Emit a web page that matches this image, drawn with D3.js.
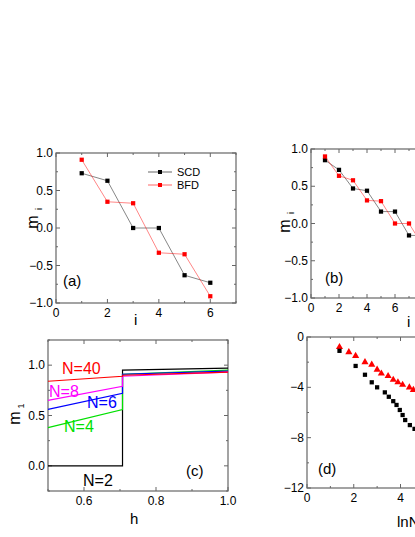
<!DOCTYPE html>
<html><head><meta charset="utf-8">
<script src="https://cdn.jsdelivr.net/npm/d3@7"></script>
<style>body{margin:0;background:#fff;overflow:hidden}text{font-family:"Liberation Sans",Arial,sans-serif}</style>
</head><body><div id="main"></div>
<script>
// panel (a)
const siteA = [1, 2, 3, 4, 5, 6];
const scdA = [0.73, 0.63, 0.0, 0.0, -0.63, -0.73];
const bfdA = [0.91, 0.35, 0.33, -0.33, -0.35, -0.91];
// panel (b)
const siteB = [1, 2, 3, 4, 5, 6, 7, 8, 9, 10, 11, 12];
const scdB = [0.85, 0.72, 0.47, 0.44, 0.16, 0.16, -0.16, -0.16, -0.44, -0.47, -0.72, -0.85];
const bfdB = [0.90, 0.64, 0.58, 0.31, 0.30, 0.0, 0.0, -0.30, -0.31, -0.58, -0.64, -0.90];
// panel (c): m1 vs h, [h, m1] for each N
const hc = 0.707;
const curvesC = [
  {name: "N=2", color: "#000", pts: [[0.5, 0], [hc, 0], [hc, 0.95], [1.0, 0.97]]},
  {name: "N=4", color: "#00e000", pts: [[0.5, 0.38], [hc, 0.56], [hc, 0.91], [1.0, 0.95]]},
  {name: "N=6", color: "#0000ff", pts: [[0.5, 0.56], [hc, 0.72], [hc, 0.91], [1.0, 0.94]]},
  {name: "N=8", color: "#ff00ff", pts: [[0.5, 0.65], [hc, 0.79], [hc, 0.89], [1.0, 0.93]]},
  {name: "N=40", color: "#ff0000", pts: [[0.5, 0.84], [hc, 0.89], [hc, 0.90], [1.0, 0.93]]}
];
// panel (d)
const lnNRed = [1.39, 1.79, 2.08, 2.48, 2.77, 3.0, 3.18, 3.47, 3.69, 3.89, 4.09, 4.38, 4.55, 4.8, 5.0];
const valRed = [-0.8, -1.2, -1.5, -2.0, -2.2, -2.6, -2.9, -3.1, -3.4, -3.6, -3.8, -4.0, -4.2, -4.4, -4.6];
const lnNBlack = [1.39, 2.08, 2.48, 2.77, 3.0, 3.33, 3.5, 3.69, 3.83, 3.97, 4.09, 4.2, 4.4, 4.6];
const valBlack = [-1.1, -2.3, -3.0, -3.6, -4.0, -4.4, -4.75, -5.1, -5.4, -5.8, -6.2, -6.6, -7.0, -7.3];

const svg = d3.select("#main").append("svg").attr("width", 415).attr("height", 537);

function frame(x, y, xt, yt, xfmt, yfmt, xminor, yminor) {
  const g = svg.append("g");
  const [x0, x1] = x.range(), [y0, y1] = y.range();
  g.append("rect").attr("x", x0).attr("y", y1).attr("width", x1 - x0).attr("height", y0 - y1)
    .attr("fill", "none").attr("stroke", "#666").attr("stroke-width", 1.2);
  const tick = (v, len, axis) => {
    if (axis === "x") {
      g.append("line").attr("x1", x(v)).attr("x2", x(v)).attr("y1", y0).attr("y2", y0 - len).attr("stroke", "#666");
      g.append("line").attr("x1", x(v)).attr("x2", x(v)).attr("y1", y1).attr("y2", y1 + len).attr("stroke", "#666");
    } else {
      g.append("line").attr("y1", y(v)).attr("y2", y(v)).attr("x1", x0).attr("x2", x0 + len).attr("stroke", "#666");
      g.append("line").attr("y1", y(v)).attr("y2", y(v)).attr("x1", x1).attr("x2", x1 - len).attr("stroke", "#666");
    }
  };
  xt.forEach(v => { tick(v, 4, "x");
    g.append("text").attr("x", x(v)).attr("y", y0 + 14).attr("text-anchor", "middle").attr("font-size", 12).text(xfmt(v)); });
  yt.forEach(v => { tick(v, 4, "y");
    g.append("text").attr("x", x0 - 3).attr("y", y(v) + 4).attr("text-anchor", "end").attr("font-size", 12).text(yfmt(v)); });
  xminor.forEach(v => tick(v, 2, "x"));
  yminor.forEach(v => tick(v, 2, "y"));
  return g;
}

function series(g, x, y, xs, ys, color, line, shape) {
  const pts = xs.map((v, i) => [x(v), y(ys[i])]);
  if (line) g.append("path").attr("d", d3.line()(pts)).attr("fill", "none").attr("stroke", color).attr("stroke-width", 0.6).attr("stroke-opacity", 0.8);
  g.selectAll(null).data(pts).enter().append("path")
    .attr("transform", d => `translate(${d[0]},${d[1]})`)
    .attr("d", d3.symbol(shape, shape === d3.symbolTriangle ? 22 : 18)())
    .attr("fill", color);
}

function label(t, x, y, size, color, rot) {
  const e = svg.append("text").attr("x", x).attr("y", y).attr("font-size", size).attr("fill", color || "#000").text(t);
  if (rot) e.attr("transform", `rotate(-90,${x},${y})`).attr("text-anchor", "middle");
  return e;
}
const f1 = d3.format(".1f"), f0 = d3.format("d");

// (a)
{
  const x = d3.scaleLinear([0, 7], [56, 236]), y = d3.scaleLinear([-1, 1], [303, 153]);
  const g = frame(x, y, [0, 2, 4, 6], [-1, -0.5, 0, 0.5, 1], f0, f1, [1, 3, 5, 7], [-0.75, -0.25, 0.25, 0.75]);
  series(g, x, y, siteA, scdA, "#000", true, d3.symbolSquare);
  series(g, x, y, siteA, bfdA, "#f00", true, d3.symbolSquare);
  [["SCD", "#000", 172], ["BFD", "#f00", 185]].forEach(([t, c, yy]) => {
    g.append("line").attr("x1", 148).attr("x2", 172).attr("y1", yy).attr("y2", yy).attr("stroke", c).attr("stroke-width", 0.6);
    g.append("rect").attr("x", 158).attr("y", yy - 2).attr("width", 4).attr("height", 4).attr("fill", c);
    g.append("text").attr("x", 177).attr("y", yy + 4).attr("font-size", 11).text(t);
  });
  label("(a)", 63, 286, 15);
  label("m", 38, 222, 16, "#000", true);
  label("i", 42, 209, 9, "#000", true);
  label("i", 134, 325, 15);
}
// (b)
{
  const x = d3.scaleLinear([0, 14], [311, 507]), y = d3.scaleLinear([-1, 1], [298, 149]);
  const g = frame(x, y, [0, 2, 4, 6, 8, 10, 12, 14], [-1, -0.5, 0, 0.5, 1], f0, f1, [1, 3, 5, 7, 9, 11, 13], [-0.75, -0.25, 0.25, 0.75]);
  series(g, x, y, siteB, scdB, "#000", true, d3.symbolSquare);
  series(g, x, y, siteB, bfdB, "#f00", true, d3.symbolSquare);
  label("(b)", 325, 283, 15);
  label("m", 290, 226, 16, "#000", true);
  label("i", 294, 213, 9, "#000", true);
  label("i", 407, 327, 15);
}
// (c)
{
  const x = d3.scaleLinear([0.5, 1.0], [48, 228]), y = d3.scaleLinear([-0.25, 1.25], [491, 340]);
  const g = frame(x, y, [0.6, 0.8, 1.0], [0, 0.5, 1.0], f1, f1, [0.5, 0.7, 0.9], [-0.25, 0.25, 0.75, 1.25]);
  curvesC.forEach(c => g.append("path").attr("d", d3.line().x(d => x(d[0])).y(d => y(d[1]))(c.pts))
    .attr("fill", "none").attr("stroke", c.color).attr("stroke-width", 1.2));
  label("N=40", 62, 374, 16, "#f00");
  label("N=8", 49, 397, 16, "#ff00ff");
  label("N=6", 87, 408, 16, "#0000ff");
  label("N=4", 64, 432, 16, "#00e000");
  label("N=2", 83, 486, 16, "#000");
  label("(c)", 186, 476, 15);
  label("m", 20, 418, 16, "#000", true);
  label("1", 24, 406, 9, "#000", true);
  label("h", 130, 524, 15);
}
// (d)
{
  const x = d3.scaleLinear([0, 8], [307, 494]), y = d3.scaleLinear([-12, 0], [488, 337]);
  const g = frame(x, y, [0, 2, 4, 6, 8], [-12, -8, -4, 0], f0, f0, [1, 3, 5, 7], [-10, -6, -2]);
  series(g, x, y, lnNRed, valRed, "#f00", false, d3.symbolTriangle);
  series(g, x, y, lnNBlack, valBlack, "#000", false, d3.symbolSquare);
  label("(d)", 318, 474, 15);
  label("lnN", 397, 527, 15);
}
</script></body></html>
